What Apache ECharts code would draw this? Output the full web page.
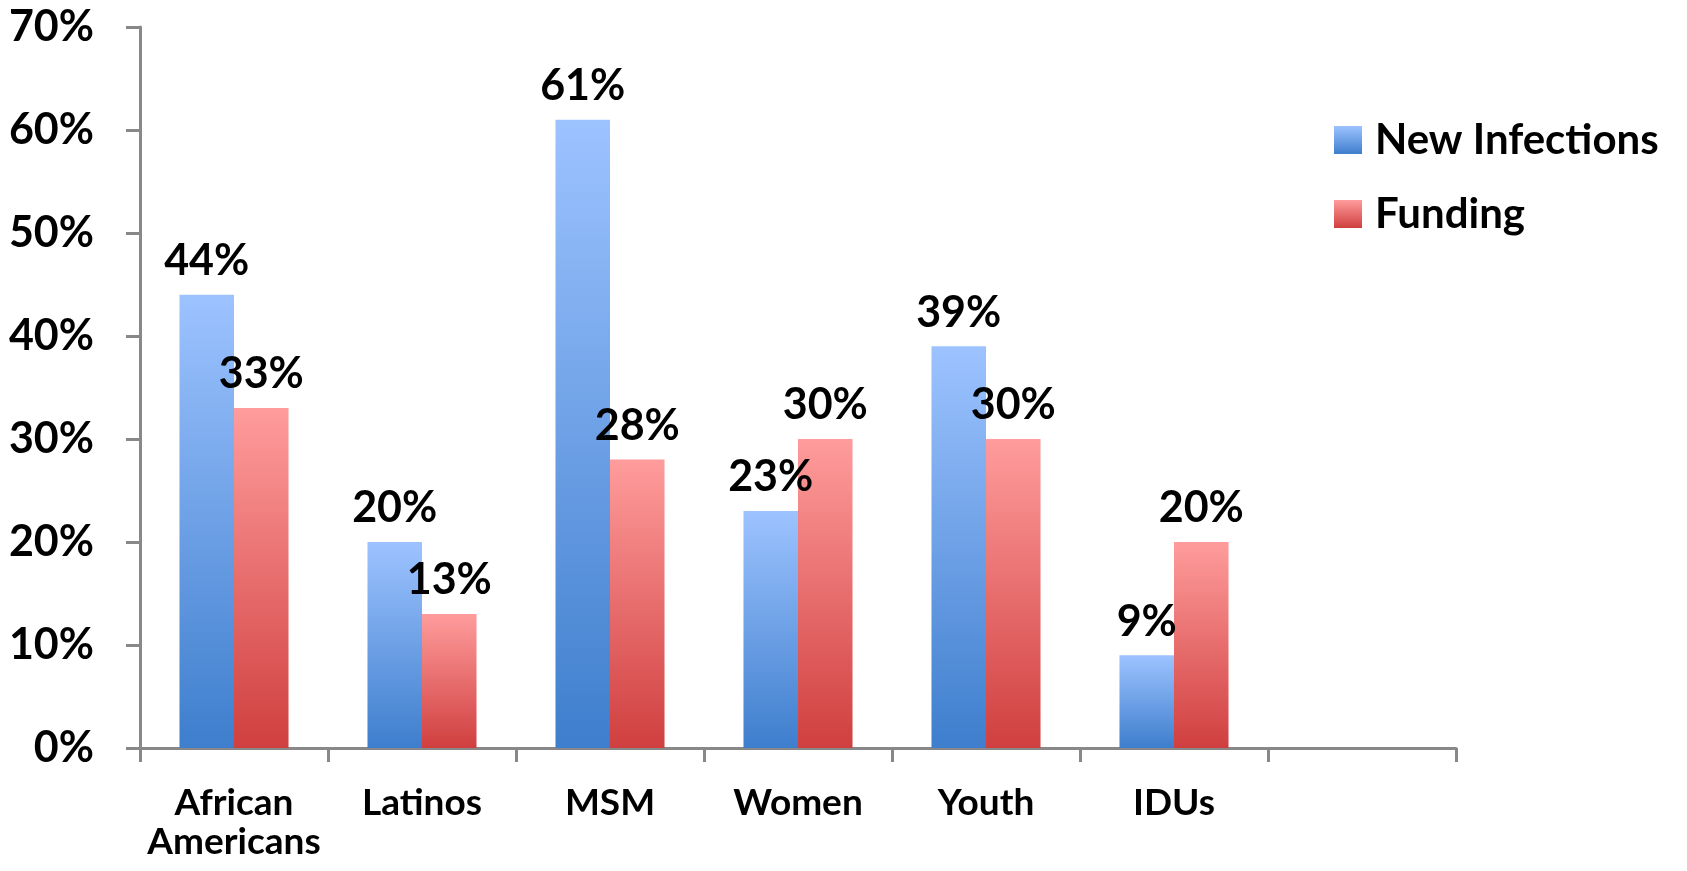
<!DOCTYPE html>
<html>
<head>
<meta charset="utf-8">
<title>New Infections vs Funding</title>
<script src="https://cdn.jsdelivr.net/npm/echarts@6/dist/echarts.min.js"></script>
<style>
    html, body { margin: 0; padding: 0; background: #fff; }
    #chart { width: 1687px; height: 871px; }
</style>
</head>
<body>
<div id="chart"></div>
<script>
//////////////////////////////////////////////////////////////////
// [ Data ]

var categories = ['African\nAmericans', 'Latinos', 'MSM', 'Women', 'Youth', 'IDUs', ''];
var newInfections = [44, 20, 61, 23, 39, 9, null];
var funding = [33, 13, 28, 30, 30, 20, null];
var yTicks = [0, 10, 20, 30, 40, 50, 60, 70];

//////////////////////////////////////////////////////////////////
// [ Chart ]

var fontName = 'Lato';
var axisGrey = '#888888';

function gradient(top, bottom) {
    return new echarts.graphic.LinearGradient(0, 0, 0, 1, [
        { offset: 0, color: top },
        { offset: 1, color: bottom }
    ]);
}

var barLabel = {
    show: true,
    position: 'top',
    distance: 12,
    formatter: function (p) { return p.value + '%'; },
    fontFamily: fontName,
    fontWeight: 'bold',
    fontSize: 43,
    color: '#000'
};

var chart = echarts.init(document.getElementById('chart'));

var options = {
    animation: false,
    grid: { left: 140, right: 231, top: 27, bottom: 123 },
    legend: {
        orient: 'vertical',
        left: 1329,
        top: 114,
        itemWidth: 28,
        itemHeight: 28,
        itemGap: 32,
        icon: 'rect',
        textStyle: {
            fontFamily: fontName,
            fontWeight: 'bold',
            fontSize: 42,
            lineHeight: 42,
            color: '#000',
            padding: [0, 0, 0, 8]
        },
        data: ['New Infections', 'Funding']
    },
    xAxis: {
        type: 'category',
        data: categories,
        axisLine: { lineStyle: { color: axisGrey, width: 3 } },
        axisTick: { show: true, length: 14, lineStyle: { color: axisGrey, width: 3 } },
        axisLabel: {
            margin: 36,
            fontFamily: fontName,
            fontWeight: 'bold',
            fontSize: 37,
            lineHeight: 39,
            color: '#000',
            interval: 0
        }
    },
    yAxis: {
        type: 'value',
        min: yTicks[0],
        max: yTicks[yTicks.length - 1],
        interval: 10,
        splitLine: { show: false },
        axisLine: { show: true, lineStyle: { color: axisGrey, width: 3 } },
        axisTick: { show: true, length: 14, lineStyle: { color: axisGrey, width: 3 } },
        axisLabel: {
            margin: 46,
            formatter: '{value}%',
            fontFamily: fontName,
            fontWeight: 'bold',
            fontSize: 43,
            color: '#000'
        }
    },
    series: [
        {
            name: 'New Infections',
            type: 'bar',
            data: newInfections,
            barGap: '0%',
            barCategoryGap: '42%',
            itemStyle: { color: gradient('#9DC3FF', '#3E7ECD') },
            label: barLabel
        },
        {
            name: 'Funding',
            type: 'bar',
            data: funding,
            itemStyle: { color: gradient('#FF9C9C', '#D03F3F') },
            label: barLabel
        }
    ]
};

chart.setOption(options);
</script>
</body>
</html>
